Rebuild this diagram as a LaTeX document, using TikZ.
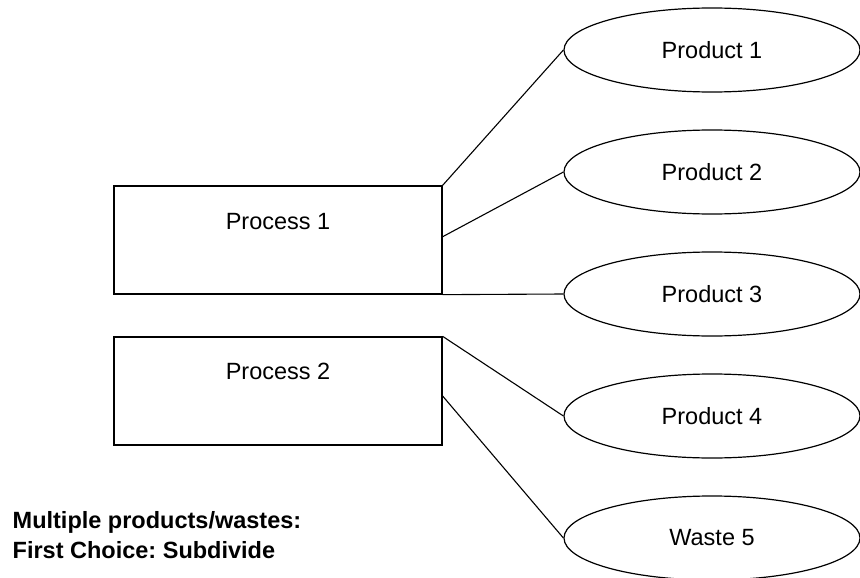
\documentclass[tikz,border=0pt]{standalone}
\usepackage{fontspec}
\setmainfont{Liberation Sans}
\usetikzlibrary{shapes.geometric,calc}
\frenchspacing

\begin{document}
\begin{tikzpicture}[x=1pt,y=-1pt,
  every node/.style={font=\fontsize{23.5}{28}\selectfont},
  procbox/.style={draw, line width=1.3pt, rectangle, minimum width=328pt,
    minimum height=108pt, inner sep=0pt},
  outcome/.style={draw, line width=1.2pt, ellipse, minimum width=296pt,
    minimum height=84pt, inner sep=0pt},
  link/.style={line width=1.1pt},
  note/.style={anchor=base west, inner sep=0pt,
    font=\fontsize{23.5}{28}\selectfont\bfseries}]

  % canvas
  \useasboundingbox (0,0) rectangle (860,578);

  % process boxes
  \node[procbox] (p1) at (278,240) {};
  \node[procbox] (p2) at (278,391) {};
  \node[anchor=base] (p1t) at (278,229.5) {Process 1};
  \node[anchor=base] (p2t) at (278,379.5) {Process 2};

  % outputs
  \node[outcome] (o1) at (712,50)  {Product 1};
  \node[outcome] (o2) at (712,172) {Product 2};
  \node[outcome] (o3) at (712,294) {Product 3};
  \node[outcome] (o4) at (712,416) {Product 4};
  \node[outcome] (o5) at (712,538) {Waste 5};

  % connectors from the boxes' right sides
  \coordinate (p1mid) at ($(p1.north east)!0.47!(p1.south east)$);
  \coordinate (p2mid) at ($(p2.north east)!0.546!(p2.south east)$);
  \draw[link] (p1.north east) -- (o1.west);
  \draw[link] (p1mid) -- (o2.west);
  \draw[link] (p1.south east) -- (o3.west);
  \draw[link] (p2.north east) -- (o4.west);
  \draw[link] (p2mid) -- (o5.west);

  % caption
  \node[note] (n1) at (12.5,528) {Multiple products/wastes:};
  \node[note] (n2) at (12.5,558) {First Choice: Subdivide};
\end{tikzpicture}
\end{document}
